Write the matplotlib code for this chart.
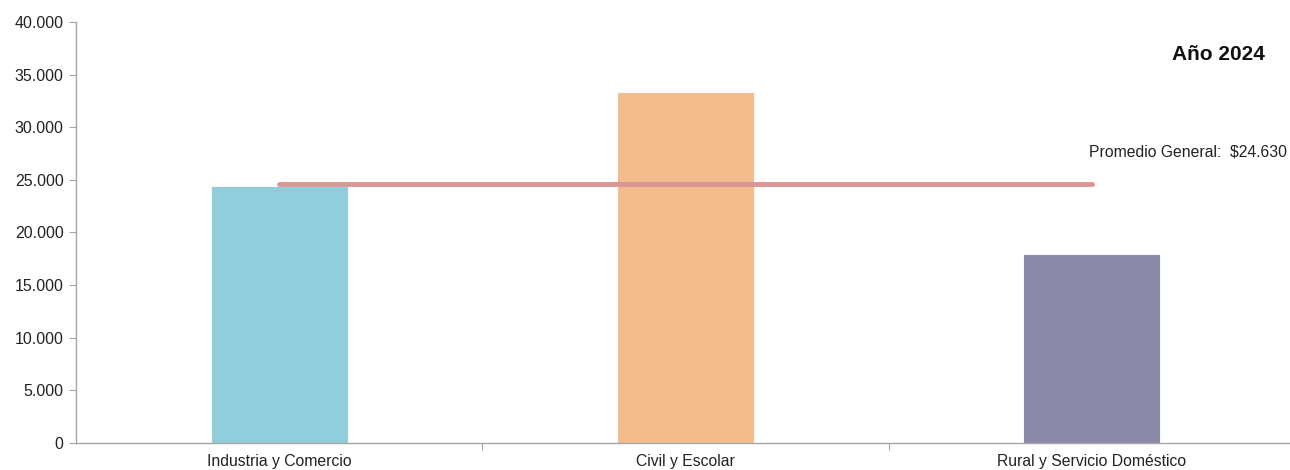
import matplotlib
matplotlib.use("Agg")
import matplotlib.pyplot as plt
from matplotlib.ticker import FuncFormatter

categorias = ["Industria y Comercio", "Civil y Escolar", "Rural y Servicio Doméstico"]
valores = [24450, 33350, 18000]
colores = ["#92CDDC", "#F3BC8D", "#8C8AA9"]
promedio = 24630
titulo = "Año 2024"
etiqueta_promedio = "Promedio General:  $24.630"

plt.rcParams['font.family'] = ['Liberation Sans', 'DejaVu Sans']

fig = plt.figure(figsize=(12.9, 4.7), dpi=100)
ax = fig.add_axes([76 / 1290, 27 / 470, 1219 / 1290, 421 / 470])

x = list(range(len(categorias)))
ax.bar(x, valores, width=0.337, color=colores, edgecolor="white", linewidth=0.6, zorder=2)

# linea del promedio, de centro a centro
ax.plot([x[0], x[-1]], [promedio, promedio], color="#DA9694", linewidth=3.5,
        solid_capstyle="round", zorder=3)

ax.set_xlim(-0.5, 2.5)
ax.set_ylim(0, 40000)
ax.set_yticks(range(0, 40001, 5000))
ax.yaxis.set_major_formatter(FuncFormatter(lambda v, p: f"{int(v):,}".replace(",", ".")))

ax.set_xticks([0.5, 1.5], minor=False)
ax.set_xticklabels([])
ax.set_xticks(x, minor=True)
ax.set_xticklabels(categorias, minor=True)
ax.tick_params(axis="x", which="minor", length=0, pad=8, labelsize=11.3, labelcolor="#222222")
ax.tick_params(axis="x", which="major", length=5, color="#A6A6A6")
ax.tick_params(axis="y", length=5, color="#A6A6A6", labelsize=11.5, labelcolor="#222222", pad=4)

for s in ["top", "right"]:
    ax.spines[s].set_visible(False)
for s in ["left", "bottom"]:
    ax.spines[s].set_color("#A6A6A6")
    ax.spines[s].set_linewidth(1.0)

fig.text(1265 / 1290, 1 - 55 / 470, titulo, ha="right", va="center",
         fontsize=15, fontweight="bold", color="#111111")
fig.text(1287 / 1290, 1 - 152 / 470, etiqueta_promedio, ha="right", va="center",
         fontsize=11.3, color="#222222")

fig.savefig("out.png", dpi=100)
